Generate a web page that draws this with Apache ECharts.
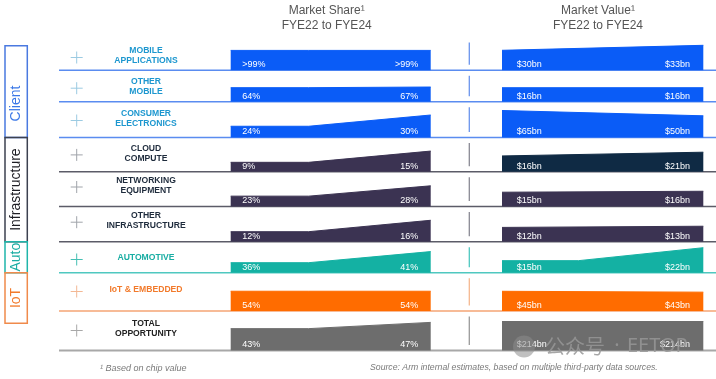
<!DOCTYPE html>
<html><head><meta charset="utf-8">
<script src="https://cdn.jsdelivr.net/npm/echarts@6/dist/echarts.min.js"></script>
<style>html,body{margin:0;padding:0;background:#fff}#c{width:716px;height:379px}</style>
</head><body><div id="c"></div><script>
// ---------- DATA ----------
const categories = ['MOBILE\nAPPLICATIONS','OTHER\nMOBILE','CONSUMER\nELECTRONICS','CLOUD\nCOMPUTE','NETWORKING\nEQUIPMENT','OTHER\nINFRASTRUCTURE','AUTOMOTIVE','IoT & EMBEDDED','TOTAL\nOPPORTUNITY'];
const groups = ['Client','Client','Client','Infrastructure','Infrastructure','Infrastructure','Auto','IoT','Total'];
const shareFYE22 = [99.5, 64, 24, 9, 23, 12, 36, 54, 43];   // % (99.5 shown as ">99%")
const shareFYE24 = [99.5, 67, 30, 15, 28, 16, 41, 54, 47];
const valueFYE22 = [30, 16, 65, 16, 15, 12, 15, 45, 214];   // $bn
const valueFYE24 = [33, 16, 50, 21, 16, 13, 22, 43, 214];
const headers = ['Market Share\u00B9', 'Market Value\u00B9'];
const periodText = 'FYE22 to FYE24';
const groupBoxes = ['Client','Infrastructure','Auto','IoT'];

// ---------- STYLE / LAYOUT ----------
const FONT = '"Liberation Sans", Arial, sans-serif';
const baselines = [70.3, 101.7, 137.5, 171.7, 206.5, 241.7, 272.7, 311, 350.5];
const labelDy = [-14.3, -15, -18.5, -18.3, -21, -21, -14.7, -21, -21.5];
const shareAxis = [[0,150],[0,137],[18,34],[4,20],[18,32.5],[8.5,19],[31.5,45],[0,82],[29,48.2]];
const valueAxis = [[18,36],[0,34.3],[-11.4,73.5],[-5,35],[0,31.5],[0,25.2],[8.5,24.7],[0,68.5],[0,221.4]];
const SHARE_KNEE = 0.39;
const valueKnee = [null,null,null,null,null,null,0.38,null,null];
const SHARE_L = 230.7, SHARE_W = 200, VAL_L = 502, VAL_W = 201.3, BAND_H = 30;
const gStyle = {
  Client:        {band:'#0a5cf7', text:'#1d97cf', plus:'#9ccbe2', sep:'#5a8cf0', div:'#6b95ec'},
  Infrastructure:{band:'#3b3352', text:'#1e2b3c', plus:'#a0a4aa', sep:'#5c5c68', div:'#8a8a94'},
  Auto:          {band:'#14b1a3', text:'#19ada3', plus:'#45bfb3', sep:'#4fc8c0', div:'#4fc8c0'},
  IoT:           {band:'#ff6c00', text:'#f27a2b', plus:'#f3b894', sep:'#f5a575', div:'#f5b890'},
  Total:         {band:'#6d6d6d', text:'#222222', plus:'#a8a8a8', sep:'#a8a8a8', div:'#9a9a9a'}
};
const valueBandOverride = {3:'#0f2a44'};
const boxStyle = {
  Client:{y0:45.7,y1:137.5,stroke:'#4a79e0',text:'#3b78e7'},
  Infrastructure:{y0:137.5,y1:241.7,stroke:'#3c4150',text:'#1e1e24'},
  Auto:{y0:241.7,y1:272.7,stroke:'#1fb5aa',text:'#19ada3'},
  IoT:{y0:272.7,y1:323.3,stroke:'#f08a4b',text:'#f27a2b'}
};

const fmtShare = v => v >= 99.5 ? '>99%' : v + '%';
const fmtValue = v => '$' + v + 'bn';

const grids=[], xAxes=[], yAxes=[], series=[], graphic=[];

function txt(x, y, text, o) {
  o = o || {};
  graphic.push({type:'text', x, y, z:100, rotation:o.rotation||0, silent:true,
    style:{text, fill:o.fill||'#fff', fontSize:o.size||9, fontFamily:o.family||FONT,
      fontWeight:o.weight||'normal', fontStyle:o.style||'normal',
      textAlign:o.align||'left', textVerticalAlign:o.valign||'middle',
      align:o.align||'left', verticalAlign:o.valign||'middle', lineHeight:o.lh||undefined,
      opacity: o.opacity==null?1:o.opacity}});
}
function line(x1,y1,x2,y2,stroke,w,z){
  graphic.push({type:'line', z:z||1, silent:true, shape:{x1,y1,x2,y2}, style:{stroke, lineWidth:w||1.5}});
}

function addBand(left, width, i, v0, v1, axis, color, knee) {
  const gi = grids.length;
  grids.push({left, top: baselines[i]-BAND_H, width, height: BAND_H, containLabel:false});
  xAxes.push({type:'value', gridIndex:gi, min:0, max:1, show:false});
  yAxes.push({type:'value', gridIndex:gi, min:axis[0], max:axis[1], show:false});
  const data = knee==null ? [[0,v0],[1,v1]] : [[0,v0],[knee,v0],[1,v1]];
  series.push({type:'line', xAxisIndex:gi, yAxisIndex:gi, data, symbol:'none', silent:true,
    lineStyle:{width:1, color}, areaStyle:{color, opacity:1, origin:'start'}, z:5});
}

categories.forEach((cat, i) => {
  const g = gStyle[groups[i]];
  const b = baselines[i];
  addBand(SHARE_L, SHARE_W, i, shareFYE22[i], shareFYE24[i], shareAxis[i], g.band, SHARE_KNEE);
  addBand(VAL_L, VAL_W, i, valueFYE22[i], valueFYE24[i], valueAxis[i], valueBandOverride[i]||g.band, valueKnee[i]);
  txt(SHARE_L+11.6, b-5.6, fmtShare(shareFYE22[i]));
  txt(SHARE_L+SHARE_W-12.4, b-5.6, fmtShare(shareFYE24[i]), {align:'right'});
  txt(VAL_L+14.7, b-5.6, fmtValue(valueFYE22[i]));
  txt(VAL_L+VAL_W-13.3, b-5.6, fmtValue(valueFYE24[i]), {align:'right'});
  line(59, b, 716, b, g.sep, groups[i]==='Total'?2:1.5, 1);
  const prev = i===0 ? 37 : baselines[i-1];
  line(469.3, prev+5.5, 469.3, b-5.5, g.div, 1.3, 1);
  const cy = b + labelDy[i];
  txt(146, cy, cat, {fill:g.text, size:8.6, weight:'bold', align:'center', lh:10});
  line(70.7, cy+1.5, 82.7, cy+1.5, g.plus, 1, 3);
  line(76.7, cy-4.5, 76.7, cy+7.5, g.plus, 1, 3);
});

groupBoxes.forEach(name => {
  const s = boxStyle[name];
  graphic.push({type:'rect', z:2, silent:true, shape:{x:5, y:s.y0, width:22.3, height:s.y1-s.y0},
    style:{fill:'none', stroke:s.stroke, lineWidth:1.5}});
  const cy = name==='Client' ? 103.5 : (s.y0+s.y1)/2;
  txt(16.5, cy, name, {fill:s.text, size:14, align:'center', rotation:Math.PI/2});
});

txt(326.7, 11, headers[0], {fill:'#555', size:12, align:'center'});
txt(326.7, 26, periodText, {fill:'#555', size:12, align:'center'});
txt(598, 11, headers[1], {fill:'#555', size:12, align:'center'});
txt(598, 26, periodText, {fill:'#555', size:12, align:'center'});

txt(100, 368, '\u00B9 Based on chip value', {fill:'#7a7a7a', size:9, style:'italic'});
txt(370, 368, 'Source: Arm internal estimates, based on multiple third-party data sources.', {fill:'#7a7a7a', size:8.7, style:'italic'});

// watermark
graphic.push({type:'circle', z:110, silent:true, shape:{cx:524, cy:346.5, r:11}, style:{fill:'rgba(140,140,140,0.55)'}});
txt(545, 346, '\u516C\u4F17\u53F7', {fill:'rgba(150,150,150,0.85)', size:20, family:'"Noto Sans CJK SC", sans-serif'});
txt(617, 346, '\u00B7', {fill:'rgba(150,150,150,0.85)', size:20, align:'center', family:'"Noto Sans", sans-serif'});
txt(627, 346, 'EETOP', {fill:'rgba(150,150,150,0.85)', size:20, family:'"Noto Sans", sans-serif'});

const chart = echarts.init(document.getElementById('c'), null, {renderer:'canvas'});
chart.setOption({
  animation:false,
  backgroundColor:'#fff',
  grid:grids, xAxis:xAxes, yAxis:yAxes, series, graphic
});
</script></body></html>
